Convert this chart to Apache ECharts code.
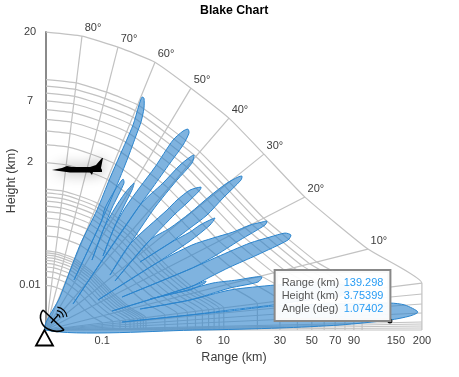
<!DOCTYPE html>
<html>
<head>
    <meta charset="UTF-8">
    <title>Blake Chart</title>
    <style>
        html, body { margin: 0; padding: 0; background: #fff; }
        #chart { width: 459px; height: 377px; }
    </style>
</head>
<body>
    <div id="chart"></div>
    <script src="https://cdn.jsdelivr.net/npm/echarts@6/dist/echarts.min.js"></script>
    <script>
        // axis units: x = km^0.25, y = 1.41 * km^0.25, so both axes share one unit size
        var xMax = 3.761;
        var yMax = 2.982;
        var rangeTickKm = [0.1, 5.5, 10, 30, 50, 70, 90, 150, 200];
        var rangeTickText = ['0.1', '6', '10', '30', '50', '70', '90', '150', '200'];
        var heightTickKm = [0.01, 2, 7, 20];
        var heightTickText = ['0.01', '2', '7', '20'];

        // range rings drawn as the outer arc scaled down, km
        var rangeRings = [0.1, 0.2, 0.3, 0.4, 0.5, 0.6, 0.7, 0.8, 0.9,
            1, 2, 3, 4, 5, 6, 7, 8, 9,
            10, 20, 30, 40, 50, 60, 70, 80, 90, 100, 200];

        // outer arc of the chart, elevation 90 deg down to 0 deg: [deg, x, y]
        var outerArc = [
            [90, 0, 2.98], [80, 0.36, 2.94], [70, 0.72, 2.83], [60, 1.09, 2.68],
            [50, 1.45, 2.42], [40, 1.83, 2.12], [30, 2.18, 1.76], [20, 2.59, 1.33],
            [10, 3.22, 0.81], [5, 3.76, 0.47], [4, 3.76, 0.36], [3, 3.76, 0.26],
            [2, 3.76, 0.17], [1, 3.76, 0.08], [0.75, 3.76, 0.06], [0.5, 3.76, 0.04],
            [0.25, 3.76, 0.02], [0, 3.76, 0]
        ];
        var labelledAngles = [80, 70, 60, 50, 40, 30, 20, 10];

        // beam coverage outline, one closed shape running from the top lobe to the bottom lobe
        var lobeOutline = [
            [0, 0], [0.14, 0.33], [0.34, 0.85], [0.51, 1.20], [0.64, 1.52], [0.74, 1.75], [0.87, 2.05], [0.93, 2.25], [0.96, 2.33],
            [0.98, 2.32], [0.98, 2.22], [0.95, 2.08], [0.91, 1.97], [0.81, 1.70], [0.66, 1.33], [0.55, 1.08], [0.28, 0.50], [0.55, 1.08],
            [0.59, 1.22], [0.69, 1.40], [0.77, 1.51], [0.78, 1.47], [0.66, 1.22], [0.58, 1.02], [0.46, 0.70], [0.58, 1.02],
            [0.69, 1.22], [0.79, 1.37], [0.88, 1.47], [0.86, 1.40], [0.77, 1.22], [0.68, 1.02], [0.57, 0.74], [0.68, 1.02],
            [0.79, 1.22], [0.94, 1.43], [1.09, 1.63], [1.27, 1.90], [1.37, 1.99], [1.42, 2.01], [1.43, 1.97],
            [1.37, 1.85], [1.24, 1.67], [1.07, 1.43], [0.94, 1.25], [0.27, 0.26], [0.94, 1.25],
            [1.17, 1.47], [1.34, 1.65], [1.44, 1.73], [1.48, 1.75], [1.46, 1.67], [1.31, 1.50], [1.17, 1.33],
            [1.07, 1.20], [0.84, 0.86], [0.64, 0.55], [0.84, 0.86],
            [1.21, 1.20], [1.31, 1.30], [1.44, 1.40], [1.55, 1.43], [1.54, 1.40], [1.41, 1.27], [1.29, 1.16],
            [1.04, 0.90], [0.69, 0.49], [1.04, 0.90],
            [1.24, 1.02], [1.44, 1.17], [1.64, 1.34], [1.81, 1.47], [1.92, 1.53], [1.96, 1.54], [1.95, 1.50],
            [1.77, 1.32], [1.61, 1.15], [1.44, 1.02], [1.24, 0.87], [0.94, 0.68], [1.24, 0.87],
            [1.44, 0.98], [1.54, 1.05], [1.66, 1.11], [1.69, 1.12], [1.64, 1.05], [1.44, 0.89], [1.09, 0.66], [0.52, 0.30], [1.09, 0.66],
            [1.46, 0.85], [1.67, 0.92], [1.87, 0.98], [2.04, 1.05], [2.16, 1.08], [2.21, 1.09], [2.19, 1.05],
            [1.94, 0.90], [1.67, 0.73], [1.44, 0.61], [0.76, 0.33], [1.44, 0.61],
            [1.71, 0.73], [2.04, 0.87], [2.24, 0.93], [2.39, 0.97], [2.45, 0.95], [2.42, 0.90], [2.11, 0.75],
            [1.84, 0.63], [1.64, 0.53], [1.44, 0.43], [0.66, 0.19], [1.44, 0.43],
            [1.60, 0.49], [1.59, 0.47], [1.44, 0.40], [1.34, 0.38], [1.04, 0.31], [1.34, 0.38],
            [1.67, 0.47], [1.91, 0.50], [2.09, 0.53], [2.16, 0.53], [2.12, 0.48], [1.84, 0.42], [1.44, 0.30], [0.94, 0.21], [1.44, 0.30],
            [1.84, 0.40], [2.29, 0.45], [2.74, 0.48], [2.99, 0.45], [3.04, 0.40], [2.94, 0.34], [2.54, 0.29],
            [2.27, 0.25], [1.84, 0.20], [1.44, 0.15], [0.76, 0.08], [1.44, 0.15],
            [1.84, 0.19], [2.27, 0.24], [2.84, 0.26], [3.44, 0.27], [3.59, 0.25], [3.72, 0.18], [3.64, 0.14],
            [3.44, 0.10], [2.94, 0.05], [2.34, 0.02], [1.54, 0]
        ];

        var targetPoint = [3.44, 0.09];
        var targetRange = '139.298';
        var targetHeight = '3.75399';
        var targetAngle = '1.07402';
        var planePoint = [0.315, 1.635];

        var GRID_COLOR = '#c2c2c2';
        var TEXT_COLOR = '#3c3c3c';
        var FONT = '"Liberation Sans", Arial, sans-serif';

        function xOf(km) { return Math.pow(km, 0.25); }
        function yOf(km) { return 1.41 * Math.pow(km, 0.25); }

        function tickText(value, ticks, texts, scale) {
            for (var i = 0; i < ticks.length; i++) {
                if (Math.abs(scale(ticks[i]) - value) < 0.001) return texts[i];
            }
            return '';
        }

        var series = [];

        rangeRings.forEach(function (km) {
            var f = Math.pow(km / 200, 0.25);
            series.push({
                type: 'line', silent: true, showSymbol: false, clip: false, smooth: 0.15, z: 1,
                lineStyle: { color: GRID_COLOR, width: 1.2 },
                data: outerArc.map(function (a) { return [a[1] * f, a[2] * f]; })
            });
        });

        outerArc.slice(1).forEach(function (a) {
            series.push({
                type: 'line', silent: true, showSymbol: false, clip: false, z: 1,
                lineStyle: { color: GRID_COLOR, width: 1.2 },
                data: [[0, 0], [a[1], a[2]]]
            });
        });

        // elevation labels sit just off the ends of the spokes
        series.push({
            type: 'scatter', silent: true, symbolSize: 0, z: 3,
            itemStyle: { opacity: 1 },
            label: {
                show: true, position: 'inside', offset: [11, -8], fontFamily: FONT, fontSize: 11, color: TEXT_COLOR,
                formatter: function (p) { return p.value[2] + '°'; }
            },
            data: outerArc.filter(function (a) { return labelledAngles.indexOf(a[0]) >= 0; })
                .map(function (a) { return [a[1], a[2], a[0]]; })
        });

        series.push({
            type: 'custom', silent: true, z: 4, clip: false,
            renderItem: function (params, api) {
                if (params.dataIndex !== 0) return;
                return {
                    type: 'polygon',
                    shape: { points: lobeOutline.map(function (p) { return api.coord(p); }), smooth: 0.25 },
                    style: { fill: 'rgba(48, 132, 204, 0.62)', stroke: '#2b84cc', lineWidth: 1 }
                };
            },
            encode: { x: 0, y: 1 },
            data: lobeOutline
        });

        series.push({
            type: 'scatter', silent: true, z: 5,
            symbol: 'path://M52 170 L62 168 L67 166 L72 167 L90 167 L96 165 L102 158 L103 158 L101 168 L102 170 L102 172 L93 172 L92 175 L90 172.5 L70 172.5 Z',
            symbolSize: [51, 17],
            itemStyle: { color: '#000', opacity: 1, shadowColor: 'rgba(0,0,0,0.45)', shadowBlur: 14 },
            data: [planePoint]
        });

        series.push({
            type: 'scatter', silent: true, z: 10, symbolSize: 5,
            itemStyle: { color: '#111', opacity: 1 },
            label: {
                show: true, position: 'left', distance: 0, align: 'right', verticalAlign: 'bottom', offset: [2, -1],
                backgroundColor: 'rgba(255,255,255,0.95)', borderColor: '#888', borderWidth: 2,
                padding: [5, 6, 5, 6], fontFamily: FONT, fontSize: 11,
                formatter: [
                    '{k|Range (km)}{v|' + targetRange + '}',
                    '{k|Height (km)}{v|' + targetHeight + '}',
                    '{k|Angle (deg)}{v|' + targetAngle + '}'
                ].join('\n'),
                rich: {
                    k: { color: '#555', fontFamily: FONT, fontSize: 11, width: 62, lineHeight: 13, align: 'left' },
                    v: { color: '#2a9df4', fontFamily: FONT, fontSize: 11, lineHeight: 13, align: 'left' }
                }
            },
            data: [targetPoint]
        });

        var dishStroke = { stroke: '#000', lineWidth: 1.6, fill: null };
        function wave(r) {
            return {
                type: 'arc', silent: true, z: 20,
                shape: { cx: 56, cy: 318, r: r, startAngle: -1.45, endAngle: -0.1, clockwise: true },
                style: { stroke: '#000', lineWidth: 1.2, fill: null }
            };
        }

        var option = {
            animation: false,
            title: {
                text: 'Blake Chart', left: 195, top: 0,
                textStyle: { fontFamily: FONT, fontSize: 12.3, fontWeight: 'bold', color: '#000' }
            },
            grid: { left: 46, right: 37, top: 32, bottom: 47, outerBoundsMode: 'none' },
            xAxis: {
                type: 'value', min: 0, max: xMax,
                name: 'Range (km)', nameLocation: 'middle', nameGap: 21,
                nameTextStyle: { fontFamily: FONT, fontSize: 12.5, color: TEXT_COLOR },
                axisLine: { show: false }, axisTick: { show: false }, splitLine: { show: false },
                axisLabel: {
                    customValues: rangeTickKm.map(xOf), margin: 5, hideOverlap: false,
                    showMinLabel: true, showMaxLabel: true,
                    fontFamily: FONT, fontSize: 11, color: TEXT_COLOR,
                    formatter: function (v) { return tickText(v, rangeTickKm, rangeTickText, xOf); }
                }
            },
            yAxis: {
                type: 'value', min: 0, max: yMax,
                name: 'Height (km)', nameLocation: 'middle', nameGap: 28, nameRotate: 90, nameMoveOverlap: false,
                nameTextStyle: { fontFamily: FONT, fontSize: 12.5, color: TEXT_COLOR },
                axisLine: { show: true, lineStyle: { color: '#8a8a8a', width: 2 } },
                axisTick: { show: false }, splitLine: { show: false },
                axisLabel: {
                    customValues: heightTickKm.map(yOf), margin: 16, align: 'center', hideOverlap: false,
                    showMinLabel: true, showMaxLabel: true,
                    fontFamily: FONT, fontSize: 11, color: TEXT_COLOR,
                    formatter: function (v) { return tickText(v, heightTickKm, heightTickText, yOf); }
                }
            },
            // radar dish icon
            graphic: [
                { type: 'polygon', silent: true, z: 20, shape: { points: [[44.5, 330], [36, 345.5], [53, 345.5]] },
                  style: { stroke: '#000', lineWidth: 1.8, fill: '#fff' } },
                { type: 'bezierCurve', silent: true, z: 20,
                  shape: { x1: 43, y1: 310, x2: 48, y2: 329, cpx1: 38, cpy1: 316, cpx2: 41, cpy2: 326 }, style: dishStroke },
                { type: 'bezierCurve', silent: true, z: 20,
                  shape: { x1: 48, y1: 329, x2: 64, y2: 330, cpx1: 53, cpy1: 332, cpx2: 60, cpy2: 332 }, style: dishStroke },
                { type: 'line', silent: true, z: 20, shape: { x1: 43, y1: 310, x2: 64, y2: 330 }, style: dishStroke },
                { type: 'line', silent: true, z: 20, shape: { x1: 51, y1: 323, x2: 58, y2: 315 }, style: { stroke: '#000', lineWidth: 1.2 } },
                wave(4), wave(7.5), wave(11)
            ],
            series: series
        };

        var chart = echarts.init(document.getElementById('chart'), null, { renderer: 'canvas' });
        chart.setOption(option);
    </script>
</body>
</html>
